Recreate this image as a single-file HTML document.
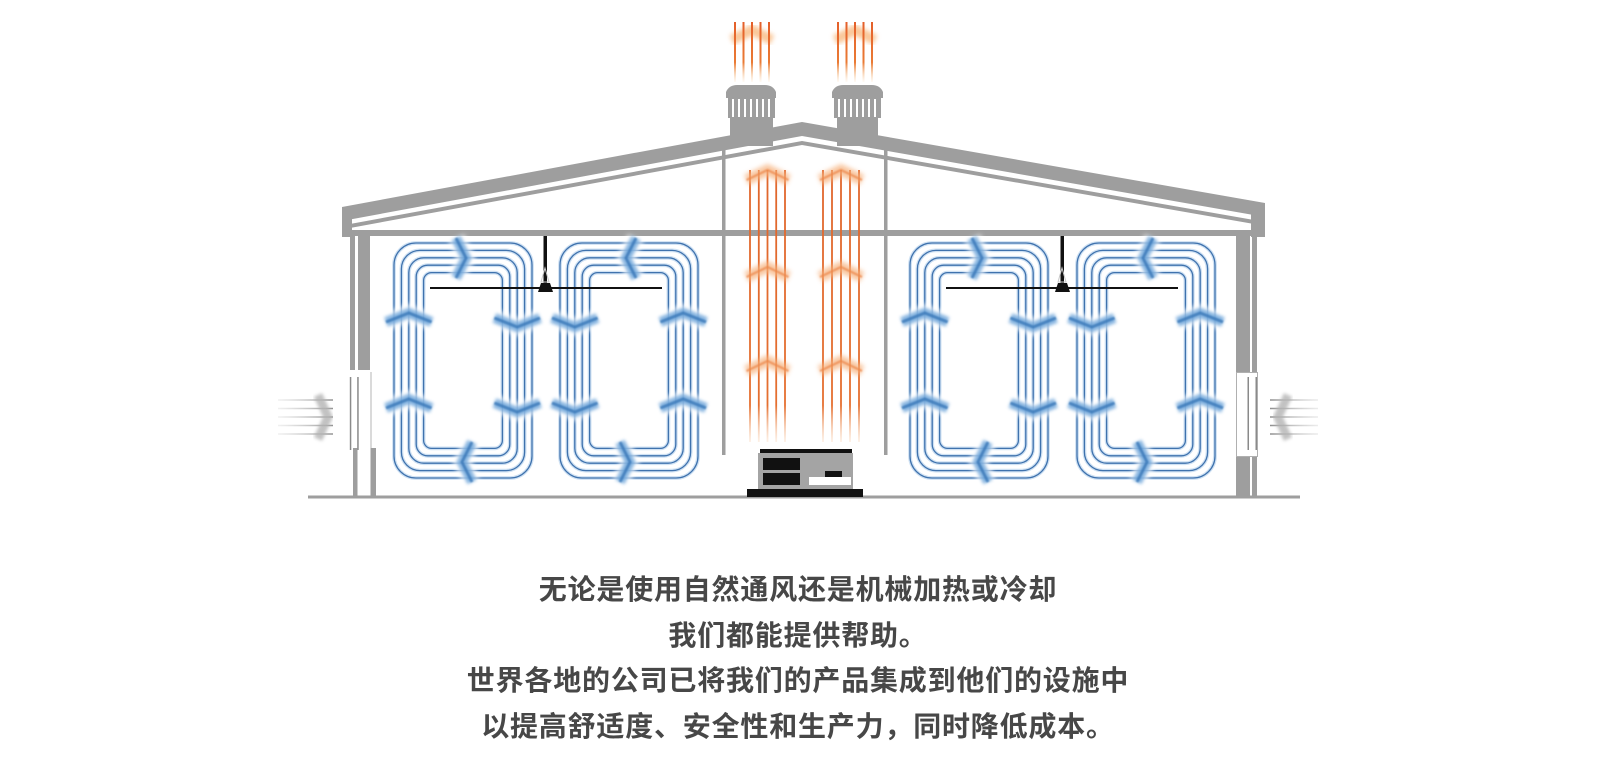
<!DOCTYPE html>
<html>
<head>
<meta charset="utf-8">
<style>
  html,body{margin:0;padding:0;background:#fff;}
  body{width:1600px;height:770px;position:relative;overflow:hidden;}
  svg{position:absolute;left:0;top:0;}
  .t{position:absolute;left:0;width:1596px;text-align:center;font-family:"Liberation Sans","Noto Sans CJK SC",sans-serif;font-weight:700;font-size:28px;line-height:30px;height:30px;color:#474747;letter-spacing:0.8px;white-space:nowrap;}
</style>
</head>
<body>
<svg width="1600" height="770" viewBox="0 0 1600 770">
  <defs>
    <filter id="bl" x="-50%" y="-50%" width="200%" height="200%"><feGaussianBlur stdDeviation="1.5"/></filter>
    <filter id="bl2" x="-50%" y="-50%" width="200%" height="200%"><feGaussianBlur stdDeviation="2.4"/></filter>
    <filter id="bl0" x="-50%" y="-50%" width="200%" height="200%"><feGaussianBlur stdDeviation="0.7"/></filter>
    <linearGradient id="og1" x1="0" y1="22" x2="0" y2="84" gradientUnits="userSpaceOnUse">
      <stop offset="0" stop-color="#e45f2a"/>
      <stop offset="0.65" stop-color="#ea7a34"/>
      <stop offset="1" stop-color="#f8d3a0" stop-opacity="0"/>
    </linearGradient>
    <linearGradient id="og2" x1="0" y1="168" x2="0" y2="444" gradientUnits="userSpaceOnUse">
      <stop offset="0" stop-color="#e0662c"/>
      <stop offset="0.86" stop-color="#e56f30"/>
      <stop offset="1" stop-color="#f7c7a0" stop-opacity="0.2"/>
    </linearGradient>
    <linearGradient id="gl" x1="278" y1="0" x2="335" y2="0" gradientUnits="userSpaceOnUse">
      <stop offset="0" stop-color="#cfcfcf" stop-opacity="0.3"/>
      <stop offset="1" stop-color="#8f8f8f"/>
    </linearGradient>
    <linearGradient id="gr" x1="1318" y1="0" x2="1270" y2="0" gradientUnits="userSpaceOnUse">
      <stop offset="0" stop-color="#cfcfcf" stop-opacity="0.4"/>
      <stop offset="1" stop-color="#8f8f8f"/>
    </linearGradient>

    <g id="loop">
      <g fill="none" stroke="#cfe1f3" stroke-width="3.8">
        <rect x="0" y="243" width="138" height="235" rx="22"/>
        <rect x="7.4" y="250.4" width="123.2" height="220.2" rx="18.5"/>
        <rect x="14.8" y="257.8" width="108.4" height="205.4" rx="15"/>
        <rect x="22.2" y="265.2" width="93.6" height="190.6" rx="11.5"/>
        <rect x="29.6" y="272.6" width="78.8" height="175.8" rx="8"/>
      </g>
      <g fill="none" stroke="#3f72ad" stroke-width="1.3">
        <rect x="0" y="243" width="138" height="235" rx="22"/>
        <rect x="7.4" y="250.4" width="123.2" height="220.2" rx="18.5"/>
        <rect x="14.8" y="257.8" width="108.4" height="205.4" rx="15"/>
        <rect x="22.2" y="265.2" width="93.6" height="190.6" rx="11.5"/>
        <rect x="29.6" y="272.6" width="78.8" height="175.8" rx="8"/>
      </g>
    </g>

    <g id="chev">
      <path d="M-8,322 L14.8,313 L37.6,322 M-8,408 L14.8,399 L37.6,408 M100.4,318 L123.2,327 L146,318 M100.4,403 L123.2,412 L146,403 M62,238 L72,258 L62,278 M78,442 L68,462 L78,482" fill="none" stroke="#ffffff" stroke-width="18" opacity="0.65" filter="url(#bl2)"/>
      <path d="M-8,322 L14.8,313 L37.6,322 M-8,408 L14.8,399 L37.6,408 M100.4,318 L123.2,327 L146,318 M100.4,403 L123.2,412 L146,403 M62,238 L72,258 L62,278 M78,442 L68,462 L78,482" fill="none" stroke="#6aa3d9" stroke-width="10" opacity="0.8" filter="url(#bl)"/>
      <path d="M-8,322 L14.8,313 L37.6,322 M-8,408 L14.8,399 L37.6,408 M100.4,318 L123.2,327 L146,318 M100.4,403 L123.2,412 L146,403 M62,238 L72,258 L62,278 M78,442 L68,462 L78,482" fill="none" stroke="#3475b6" stroke-width="3" opacity="0.75" filter="url(#bl0)"/>
    </g>

    <g id="cw">
      <use href="#loop"/>
      <use href="#chev"/>
    </g>
  </defs>

  <!-- floor -->
  <rect x="308" y="495.5" width="992" height="3" fill="#9e9e9e"/>

  <!-- roof slab -->
  <polygon points="342,207 802,122 1265,203 1265,217 802,136 342,221" fill="#9e9e9e"/>
  <!-- rafter -->
  <polygon points="350,224 802,141 1254,220 1254,224 802,145 350,228" fill="#9e9e9e"/>
  <!-- eave blocks -->
  <rect x="342" y="207" width="10" height="30" fill="#9e9e9e"/>
  <rect x="1251" y="203" width="14" height="34" fill="#9e9e9e"/>
  <!-- ceiling beam -->
  <rect x="342" y="230" width="923" height="6" fill="#9e9e9e"/>

  <!-- left wall -->
  <rect x="350" y="236" width="5" height="134" fill="#9e9e9e"/>
  <rect x="358" y="236" width="12" height="134" fill="#9e9e9e"/>
  <rect x="349.8" y="377" width="1.5" height="73" fill="#8a8a8a"/>
  <rect x="357.2" y="377" width="1.5" height="73" fill="#8a8a8a"/>
  <rect x="370.5" y="372" width="1" height="80" fill="#b5b5b5"/>
  <rect x="353" y="448" width="4.5" height="48" fill="#9e9e9e"/>
  <rect x="370.5" y="448" width="5.5" height="48" fill="#9e9e9e"/>

  <!-- right wall -->
  <rect x="1236" y="236" width="14" height="136" fill="#9e9e9e"/>
  <rect x="1252" y="236" width="5" height="136" fill="#9e9e9e"/>
  <rect x="1236.5" y="372.5" width="21" height="84" fill="none" stroke="#b0b0b0" stroke-width="1"/>
  <rect x="1247.5" y="377" width="1.5" height="73" fill="#8a8a8a"/>
  <rect x="1255.5" y="377" width="1.5" height="73" fill="#8a8a8a"/>
  <rect x="1236" y="457" width="14" height="39" fill="#9e9e9e"/>
  <rect x="1252" y="457" width="5" height="39" fill="#9e9e9e"/>

  <!-- interior posts -->
  <rect x="722" y="148" width="3.5" height="307" fill="#9e9e9e"/>
  <rect x="884" y="150" width="3.5" height="305" fill="#9e9e9e"/>

  <!-- chimney 1 -->
  <rect x="730" y="116" width="43" height="30" fill="#9e9e9e"/>
  <rect x="728" y="97" width="47" height="21" fill="#9e9e9e"/>
  <g fill="#ffffff">
    <rect x="732" y="99" width="2" height="18"/><rect x="738" y="99" width="2" height="18"/>
    <rect x="744" y="99" width="2" height="18"/><rect x="750" y="99" width="2" height="18"/>
    <rect x="756" y="99" width="2" height="18"/><rect x="762" y="99" width="2" height="18"/>
    <rect x="768" y="99" width="2" height="18"/>
  </g>
  <path d="M726,98 L726,92 Q729,85 737,85 L765,85 Q773,85 776,92 L776,98 Z" fill="#9e9e9e"/>

  <!-- chimney 2 -->
  <rect x="837" y="116" width="41" height="30" fill="#9e9e9e"/>
  <rect x="834" y="97" width="47" height="21" fill="#9e9e9e"/>
  <g fill="#ffffff">
    <rect x="838" y="99" width="2" height="18"/><rect x="844" y="99" width="2" height="18"/>
    <rect x="850" y="99" width="2" height="18"/><rect x="856" y="99" width="2" height="18"/>
    <rect x="862" y="99" width="2" height="18"/><rect x="868" y="99" width="2" height="18"/>
    <rect x="874" y="99" width="2" height="18"/>
  </g>
  <path d="M832,98 L832,92 Q835,85 843,85 L872,85 Q880,85 883,92 L883,98 Z" fill="#9e9e9e"/>

  <!-- orange exhaust above chimneys -->
  <path d="M732,40 L752,30 L772,40 M835,40 L855,30 L875,40" fill="none" stroke="#f7b070" stroke-width="10" opacity="0.7" filter="url(#bl2)"/>
  <g stroke="url(#og1)" stroke-width="2">
    <line x1="735" y1="22" x2="735" y2="82"/><line x1="743.5" y1="22" x2="743.5" y2="82"/>
    <line x1="752" y1="22" x2="752" y2="82"/><line x1="760.5" y1="22" x2="760.5" y2="82"/>
    <line x1="769" y1="22" x2="769" y2="82"/>
    <line x1="838" y1="22" x2="838" y2="82"/><line x1="846.5" y1="22" x2="846.5" y2="82"/>
    <line x1="855" y1="22" x2="855" y2="82"/><line x1="863.5" y1="22" x2="863.5" y2="82"/>
    <line x1="872" y1="22" x2="872" y2="82"/>
  </g>

  <!-- inner orange columns -->
  <g stroke="url(#og2)" stroke-width="1.8">
    <line x1="750" y1="170" x2="750" y2="442"/><line x1="758.8" y1="170" x2="758.8" y2="442"/>
    <line x1="767.5" y1="170" x2="767.5" y2="442"/><line x1="776.2" y1="170" x2="776.2" y2="442"/>
    <line x1="785" y1="170" x2="785" y2="442"/>
    <line x1="823" y1="170" x2="823" y2="442"/><line x1="832" y1="170" x2="832" y2="442"/>
    <line x1="841" y1="170" x2="841" y2="442"/><line x1="850" y1="170" x2="850" y2="442"/>
    <line x1="859" y1="170" x2="859" y2="442"/>
  </g>
  <path d="M746.5,180 L767.5,170 L788.5,180 M746.5,277 L767.5,267 L788.5,277 M746.5,371 L767.5,361 L788.5,371 M820,180 L841,170 L862,180 M820,277 L841,267 L862,277 M820,371 L841,361 L862,371" fill="none" stroke="#f6b07a" stroke-width="11" opacity="0.7" filter="url(#bl2)"/>
  <path d="M746.5,180 L767.5,170 L788.5,180 M746.5,277 L767.5,267 L788.5,277 M746.5,371 L767.5,361 L788.5,371 M820,180 L841,170 L862,180 M820,277 L841,267 L862,277 M820,371 L841,361 L862,371" fill="none" stroke="#ec8447" stroke-width="2.2" opacity="0.7" filter="url(#bl0)"/>

  <!-- heater -->
  <rect x="760" y="449" width="92" height="4" fill="#111"/>
  <rect x="758" y="453" width="95" height="36" fill="#a4a4a4"/>
  <rect x="763" y="458" width="37" height="12" fill="#111"/>
  <rect x="763" y="473" width="37" height="12" fill="#111"/>
  <rect x="825" y="471" width="17" height="6" fill="#111"/>
  <rect x="809" y="477" width="42" height="8" fill="#fff"/>
  <rect x="747" y="489" width="116" height="8" fill="#111"/>

  <!-- blue loops -->
  <use href="#cw" transform="translate(394,0)"/>
  <use href="#cw" transform="translate(698,0) scale(-1,1)"/>
  <use href="#cw" transform="translate(910,0)"/>
  <use href="#cw" transform="translate(1215,0) scale(-1,1)"/>

  <!-- fans -->
  <g>
    <rect x="543.5" y="236" width="3.5" height="47" fill="#111"/>
    <path d="M541,282 L545,268 L549,282 Z" fill="none" stroke="#c8c8c8" stroke-width="1"/>
    <path d="M538,292 L541,283 L550,283 L553,292 Z" fill="#111"/>
    <rect x="430" y="287" width="232" height="2" fill="#111"/>
  </g>
  <g>
    <rect x="1060.5" y="236" width="3.5" height="47" fill="#111"/>
    <path d="M1058,282 L1062,268 L1066,282 Z" fill="none" stroke="#c8c8c8" stroke-width="1"/>
    <path d="M1055,292 L1058,283 L1067,283 L1070,292 Z" fill="#111"/>
    <rect x="946" y="287" width="232" height="2" fill="#111"/>
  </g>

  <!-- side inflow arrows -->
  <g stroke="url(#gl)" stroke-width="1.6">
    <line x1="278" y1="400" x2="333" y2="400"/><line x1="278" y1="408.5" x2="333" y2="408.5"/>
    <line x1="278" y1="417" x2="333" y2="417"/><line x1="278" y1="425.5" x2="333" y2="425.5"/>
    <line x1="278" y1="434" x2="333" y2="434"/>
  </g>
  <path d="M318,395 L328,417 L318,439" fill="none" stroke="#b3b3b3" stroke-width="9" opacity="0.8" filter="url(#bl)"/>
  <g stroke="url(#gr)" stroke-width="1.6">
    <line x1="1270" y1="400" x2="1318" y2="400"/><line x1="1270" y1="408.5" x2="1318" y2="408.5"/>
    <line x1="1270" y1="417" x2="1318" y2="417"/><line x1="1270" y1="425.5" x2="1318" y2="425.5"/>
    <line x1="1270" y1="434" x2="1318" y2="434"/>
  </g>
  <path d="M1288,395 L1278,417 L1288,439" fill="none" stroke="#b3b3b3" stroke-width="9" opacity="0.8" filter="url(#bl)"/>
</svg>

<div class="t" style="top:575px;">无论是使用自然通风还是机械加热或冷却</div>
<div class="t" style="top:621px;">我们都能提供帮助。</div>
<div class="t" style="top:666px;">世界各地的公司已将我们的产品集成到他们的设施中</div>
<div class="t" style="top:712px;">以提高舒适度、安全性和生产力，同时降低成本。</div>
</body>
</html>
